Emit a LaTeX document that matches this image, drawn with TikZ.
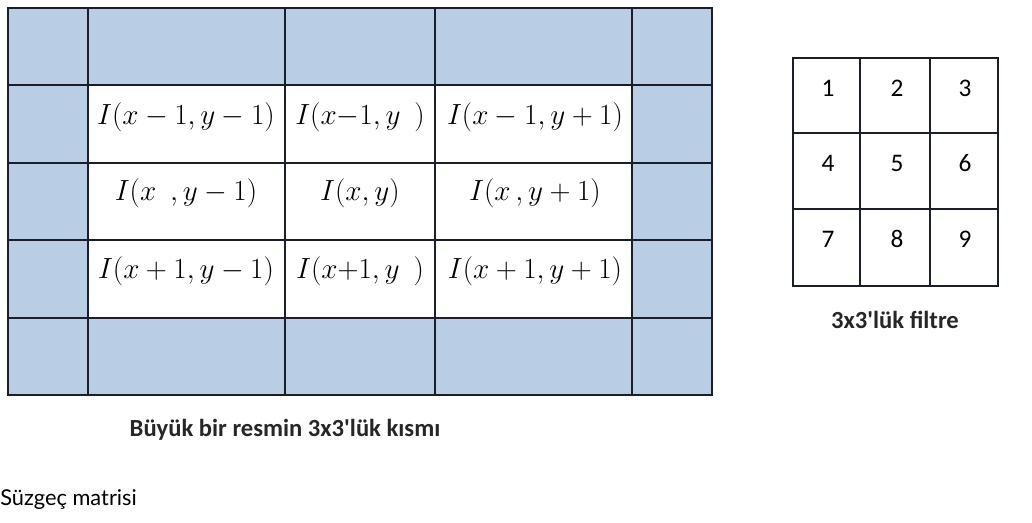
\documentclass[tikz,border=0pt]{standalone}
\usepackage[no-math]{fontspec}
\newfontfamily\carlito{Carlito}
\newfontfamily\captionfont{Lato}
\usetikzlibrary{positioning}

\definecolor{cellblue}{HTML}{B9CDE5}
\definecolor{gridline}{RGB}{25,30,40}

\begin{document}
\begin{tikzpicture}[x=0.25mm, y=-0.25mm,
  grid/.style={draw=gridline, line width=1.2pt},
  expr/.style={font=\fontsize{21}{24}\selectfont, inner sep=0pt},
  num/.style={font=\carlito\fontsize{18}{21}\selectfont, inner sep=0pt},
  lab/.style={font=\carlito\fontsize{17.5}{20}\selectfont\bfseries, text=black!85, inner sep=0pt}]
  \useasboundingbox (0,0) rectangle (1032,523);
  % buyuk resim: kenar hucreleri mavi, ic 3x3 beyaz
  \fill[cellblue] (8,8) rectangle (712,395);
  \fill[white] (88,85) rectangle (632,318);
  \foreach \x in {88,285,435,632}
    \draw[grid] (\x,8) -- (\x,395);
  \foreach \y in {85,163,240,318}
    \draw[grid] (8,\y) -- (712,\y);
  \draw[grid] (8,8) rectangle (712,395);
  % ic hucre ifadeleri
  \node[expr] (p11) at (186,117) {$I(x-1,y-1)$};
  \node[expr] (p12) at (360,117) {$I(x{-}1,y\ \,)$};
  \node[expr] (p13) at (535,117) {$I(x-1,y+1)$};
  \node[expr] (p21) at (186,193) {$I(x\ \,,y-1)$};
  \node[expr] (p22) at (360,193) {$I(x,y)$};
  \node[expr] (p23) at (535,193) {$I(x\,,y+1)$};
  \node[expr] (p31) at (186,271) {$I(x+1,y-1)$};
  \node[expr] (p32) at (360,271) {$I(x{+}1,y\ \,)$};
  \node[expr] (p33) at (535,271) {$I(x+1,y+1)$};
  \node[lab] (bigcap) at (285,430) {Büyük bir resmin 3x3'lük kısmı};
  % 3x3 filtre
  \foreach \x in {860,930}
    \draw[grid] (\x,58) -- (\x,286);
  \foreach \y in {133,209}
    \draw[grid] (793,\y) -- (998,\y);
  \draw[grid] (793,58) rectangle (998,286);
  \foreach \i/\x/\y in {1/828/88,2/897/88,3/965/88,4/828/163,5/897/163,6/965/163,7/828/239,8/897/239,9/965/239}
    \node[num] (f\i) at (\x,\y) {\i};
  \node[lab] (filtcap) at (895,320) {3x3'lük filtre};
  % alt yazi
  \node[font=\captionfont\fontsize{15.5}{18}\selectfont, anchor=west, inner sep=0pt] (suzgec) at (0,500) {Süzgeç matrisi};
\end{tikzpicture}
\end{document}
